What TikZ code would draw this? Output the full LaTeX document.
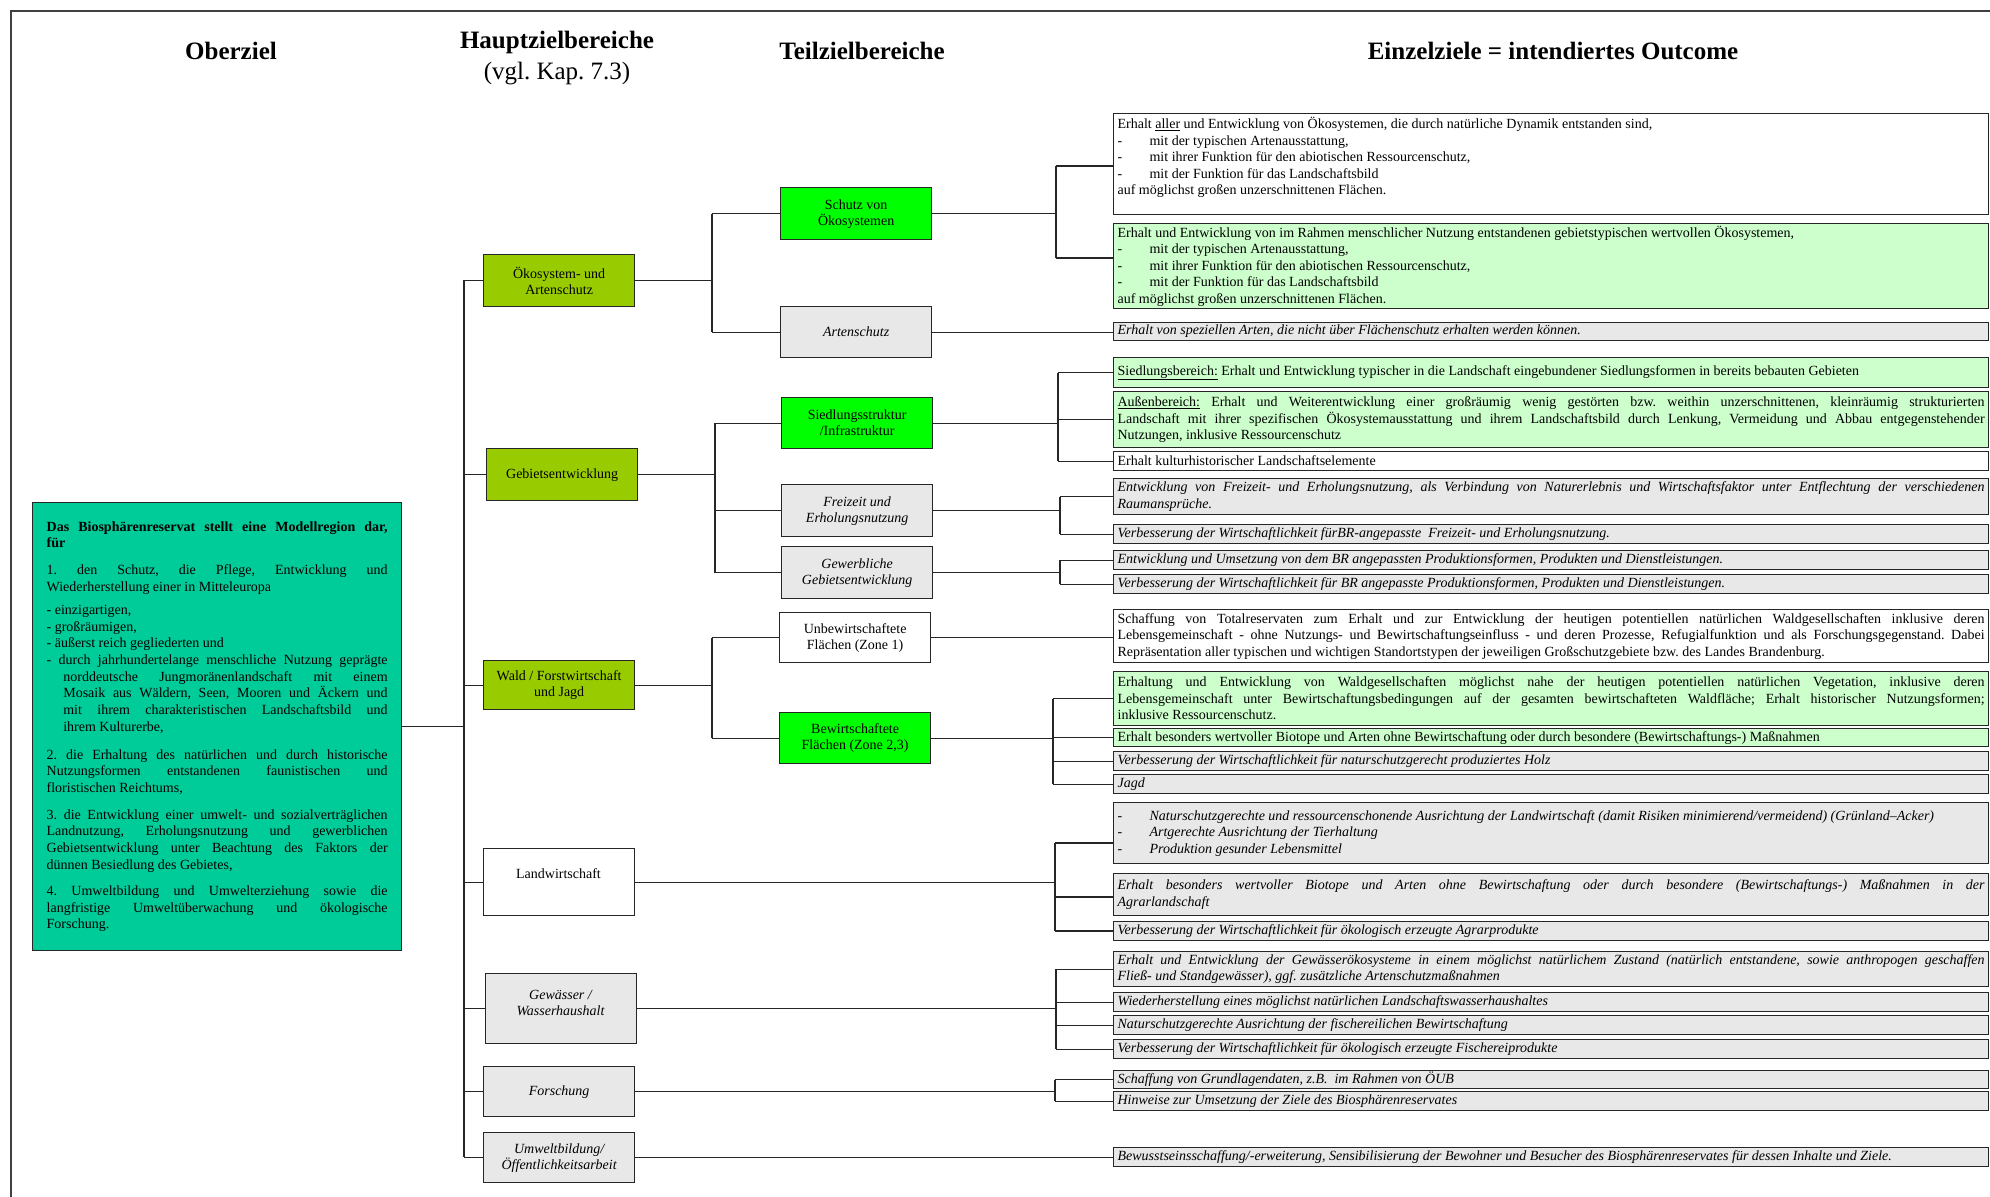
\documentclass[tikz,border=0pt]{standalone}
\usepackage{fontspec}
\setmainfont{Liberation Serif}
\definecolor{oberc}{HTML}{00CC99}
\definecolor{hauptc}{HTML}{99CC00}
\definecolor{brightg}{HTML}{00FF00}
\definecolor{lightg}{HTML}{CCFFCC}
\definecolor{grayc}{HTML}{E8E8E8}
\newcommand{\dsh}[1]{\makebox[32pt][l]{-}#1}
\newcommand{\etxt}[1]{\parbox{867pt}{#1}}
\tolerance=9999
\hyphenpenalty=10000
\exhyphenpenalty=10000
\hbadness=10000
\frenchspacing
\begin{document}
\begin{tikzpicture}[x=1pt,y=-1pt,
  conn/.style={draw=black!85, line width=1.2pt},
  frameline/.style={draw=black!75, line width=1.5pt},
  bx/.style={draw=black!85, line width=1.3pt, inner sep=1pt, align=center, anchor=north west, font=\fontsize{14}{16}\selectfont},
  tb/.style={bx, minimum width=151pt, minimum height=51pt},
  tbi/.style={tb, fill=grayc, font=\fontsize{14}{16}\selectfont\itshape},
  eb/.style={draw=black!85, line width=1.2pt, inner sep=0pt, anchor=north west, minimum width=875pt, font=\fontsize{14}{16.5}\selectfont},
  ebw/.style={eb, fill=white},
  ebg/.style={eb, fill=lightg},
  ebi/.style={eb, fill=grayc, font=\fontsize{14}{16.5}\selectfont\itshape},
  hdr/.style={font=\fontsize{25}{30.5}\selectfont\bfseries, align=center},
]
\useasboundingbox (0,0) rectangle (1990,1197);
\fill[white] (0,0) rectangle (1990,1197);
% frame
\coordinate (fTL) at (11,11);
\coordinate (fTR) at (1990,11);
\coordinate (fBL) at (11,1197);
\draw[frameline] (fTR) -- (fTL) -- (fBL);

% headers
\node[hdr] (hd1) at (231,51) {Oberziel};
\node[hdr] (hd2) at (557,58) {Hauptzielbereiche\\\mdseries(vgl. Kap. 7.3)};
\node[hdr] (hd3) at (862,51) {Teilzielbereiche};
\node[hdr] (hd4) at (1553,51) {Einzelziele = intendiertes Outcome};

% Oberziel
\node[bx, fill=oberc, minimum width=369pt, minimum height=448pt, inner sep=0pt] (ober) at (32,502) {%
\begin{minipage}{341pt}\fontsize{14}{16.7}\selectfont
\setlength{\parindent}{0pt}\setlength{\parskip}{0pt}%
\textbf{Das Biosphärenreservat stellt eine Modellregion dar,\linebreak für}\par
\vspace{10pt}
1. den Schutz, die Pflege, Entwicklung und\linebreak Wiederherstellung einer in Mitteleuropa\par
\vspace{6.5pt}
- einzigartigen,\par
- großräumigen,\par
- äußerst reich gegliederten und\par
{\hangindent=16.7pt\hangafter=1 - durch jahrhundertelange menschliche Nutzung geprägte\linebreak norddeutsche Jungmoränenlandschaft mit einem\linebreak Mosaik aus Wäldern, Seen, Mooren und Äckern und\linebreak mit ihrem charakteristischen Landschaftsbild und\linebreak ihrem Kulturerbe,\par}
\vspace{11pt}
2. die Erhaltung des natürlichen und durch historische\linebreak Nutzungsformen entstandenen faunistischen und\linebreak floristischen Reichtums,\par
\vspace{10pt}
3. die Entwicklung einer umwelt- und sozialverträglichen\linebreak Landnutzung, Erholungsnutzung und gewerblichen\linebreak Gebietsentwicklung unter Beachtung des Faktors der\linebreak dünnen Besiedlung des Gebietes,\par
\vspace{9.5pt}
4. Umweltbildung und Umwelterziehung sowie die\linebreak langfristige Umweltüberwachung und ökologische\linebreak Forschung.\par
\end{minipage}};

% Hauptziele
\node[tb, fill=hauptc, minimum height=52pt] (h1) at (483,254) {Ökosystem- und\\Artenschutz};
\node[tb, fill=hauptc, minimum height=52pt] (h2) at (486,448) {Gebietsentwicklung};
\node[tb, fill=hauptc, minimum height=49pt] (h3) at (483,660) {Wald / Forstwirtschaft\\und Jagd};
\node[tb, fill=white, minimum height=67pt] (h4) at (483,848) {};
\node[font=\fontsize{14}{16}\selectfont] (h4t) at (558.5,874) {Landwirtschaft};
\node[tb, fill=grayc, minimum height=70pt] (h5) at (485,973) {};
\node[font=\fontsize{14}{16}\selectfont\itshape, align=center] (h5t) at (560.5,1003) {Gewässer /\\Wasserhaushalt};
\node[tbi, minimum height=50pt] (h6) at (483,1066) {Forschung};
\node[tbi, minimum height=50pt] (h7) at (483,1132) {Umweltbildung/\\Öffentlichkeitsarbeit};

% Teilziele
\node[tb, fill=brightg, minimum height=52pt] (t1) at (780,187) {Schutz von\\Ökosystemen};
\node[tbi] (t2) at (780,306) {Artenschutz};
\node[tb, fill=brightg] (t3) at (781,397) {Siedlungsstruktur\\/Infrastruktur};
\node[tbi, minimum height=52pt] (t4) at (781,484) {Freizeit und\\Erholungsnutzung};
\node[tbi, minimum height=52pt] (t5) at (781,546) {Gewerbliche\\Gebietsentwicklung};
\node[tb, fill=white, minimum height=50pt] (t6) at (779,612) {Unbewirtschaftete\\Flächen (Zone 1)};
\node[tb, fill=brightg] (t7) at (779,712) {Bewirtschaftete\\Flächen (Zone 2,3)};

% Einzelziele
\node[ebw, minimum height=101pt] (e1) at (1113,113) {\etxt{Erhalt \underline{aller} und Entwicklung von Ökosystemen, die durch natürliche Dynamik entstanden sind,\\\dsh{mit der typischen Artenausstattung,}\\\dsh{mit ihrer Funktion für den abiotischen Ressourcenschutz,}\\\dsh{mit der Funktion für das Landschaftsbild}\\auf möglichst großen unzerschnittenen Flächen.\\\mbox{}}};
\node[ebg, minimum height=85pt] (e2) at (1113,223) {\etxt{Erhalt und Entwicklung von im Rahmen menschlicher Nutzung entstandenen gebietstypischen wertvollen Ökosystemen,\\\dsh{mit der typischen Artenausstattung,}\\\dsh{mit ihrer Funktion für den abiotischen Ressourcenschutz,}\\\dsh{mit der Funktion für das Landschaftsbild}\\auf möglichst großen unzerschnittenen Flächen.}};
\node[ebi, minimum height=18pt] (e3) at (1113,322) {\etxt{Erhalt von speziellen Arten, die nicht über Flächenschutz erhalten werden können.}};
\node[ebg, minimum height=30pt] (e4) at (1113,357) {\etxt{\underline{Siedlungsbereich:} Erhalt und Entwicklung typischer in die Landschaft eingebundener Siedlungsformen in bereits bebauten Gebieten}};
\node[ebg, minimum height=56pt] (e5) at (1113,391) {\etxt{\underline{Außenbereich:} Erhalt und Weiterentwicklung einer großräumig wenig gestörten bzw. weithin unzerschnittenen, kleinräumig strukturierten\linebreak Landschaft mit ihrer spezifischen Ökosystemausstattung und ihrem Landschaftsbild durch Lenkung, Vermeidung und Abbau entgegenstehender\linebreak Nutzungen, inklusive Ressourcenschutz}};
\node[ebw, minimum height=19pt] (e6) at (1113,451) {\etxt{Erhalt kulturhistorischer Landschaftselemente}};
\node[ebi, minimum height=36pt] (e7) at (1113,478) {\etxt{Entwicklung von Freizeit- und Erholungsnutzung, als Verbindung von Naturerlebnis und Wirtschaftsfaktor unter Entflechtung der verschiedenen\linebreak Raumansprüche.}};
\node[ebi, minimum height=19pt] (e8) at (1113,524) {\etxt{Verbesserung der Wirtschaftlichkeit fürBR-angepasste\ \ Freizeit- und Erholungsnutzung.}};
\node[ebi, minimum height=19pt] (e9) at (1113,550) {\etxt{Entwicklung und Umsetzung von dem BR angepassten Produktionsformen, Produkten und Dienstleistungen.}};
\node[ebi, minimum height=19pt] (e10) at (1113,574) {\etxt{Verbesserung der Wirtschaftlichkeit für BR angepasste Produktionsformen, Produkten und Dienstleistungen.}};
\node[ebw, minimum height=53pt] (e11) at (1113,609) {\etxt{Schaffung von Totalreservaten zum Erhalt und zur Entwicklung der heutigen potentiellen natürlichen Waldgesellschaften inklusive deren\linebreak Lebensgemeinschaft - ohne Nutzungs- und Bewirtschaftungseinfluss - und deren Prozesse, Refugialfunktion und als Forschungsgegenstand. Dabei\linebreak Repräsentation aller typischen und wichtigen Standortstypen der jeweiligen Großschutzgebiete bzw. des Landes Brandenburg.}};
\node[ebg, minimum height=54pt] (e12) at (1113,671) {\etxt{Erhaltung und Entwicklung von Waldgesellschaften möglichst nahe der heutigen potentiellen natürlichen Vegetation, inklusive deren\linebreak Lebensgemeinschaft unter Bewirtschaftungsbedingungen auf der gesamten bewirtschafteten Waldfläche; Erhalt historischer Nutzungsformen;\linebreak inklusive Ressourcenschutz.}};
\node[ebg, minimum height=18pt] (e13) at (1113,728) {\etxt{Erhalt besonders wertvoller Biotope und Arten ohne Bewirtschaftung oder durch besondere (Bewirtschaftungs-) Maßnahmen}};
\node[ebi, minimum height=19pt] (e14) at (1113,751) {\etxt{Verbesserung der Wirtschaftlichkeit für naturschutzgerecht produziertes Holz}};
\node[ebi, minimum height=19pt] (e15) at (1113,774) {\etxt{Jagd}};
\node[ebi, minimum height=61pt] (e16) at (1113,802) {\etxt{\dsh{Naturschutzgerechte und ressourcenschonende Ausrichtung der Landwirtschaft (damit Risiken minimierend/vermeidend) (Grünland–Acker)}\\\dsh{Artgerechte Ausrichtung der Tierhaltung}\\\dsh{Produktion gesunder Lebensmittel}}};
\node[ebi, minimum height=42pt] (e17) at (1113,873) {\etxt{Erhalt besonders wertvoller Biotope und Arten ohne Bewirtschaftung oder durch besondere (Bewirtschaftungs-) Maßnahmen in der\linebreak Agrarlandschaft}};
\node[ebi, minimum height=19pt] (e18) at (1113,921) {\etxt{Verbesserung der Wirtschaftlichkeit für ökologisch erzeugte Agrarprodukte}};
\node[ebi, minimum height=35pt] (e19) at (1113,951) {\etxt{Erhalt und Entwicklung der Gewässerökosysteme in einem möglichst natürlichem Zustand (natürlich entstandene, sowie anthropogen geschaffen\linebreak Fließ- und Standgewässer), ggf. zusätzliche Artenschutzmaßnahmen}};
\node[ebi, minimum height=19pt] (e20) at (1113,992) {\etxt{Wiederherstellung eines möglichst natürlichen Landschaftswasserhaushaltes}};
\node[ebi, minimum height=19pt] (e21) at (1113,1015) {\etxt{Naturschutzgerechte Ausrichtung der fischereilichen Bewirtschaftung}};
\node[ebi, minimum height=19pt] (e22) at (1113,1039) {\etxt{Verbesserung der Wirtschaftlichkeit für ökologisch erzeugte Fischereiprodukte}};
\node[ebi, minimum height=18pt] (e23) at (1113,1070) {\etxt{Schaffung von Grundlagendaten, z.B.\ \ im Rahmen von ÖUB}};
\node[ebi, minimum height=19pt] (e24) at (1113,1091) {\etxt{Hinweise zur Umsetzung der Ziele des Biosphärenreservates}};
\node[ebi, minimum height=19pt] (e25) at (1113,1147) {\etxt{Bewusstseinsschaffung/-erweiterung, Sensibilisierung der Bewohner und Besucher des Biosphärenreservates für dessen Inhalte und Ziele.}};

% ---- connectors ----
\coordinate (busT) at (464,280);
\coordinate (busB) at (464,1157);
\draw[conn] (busT) -- (busB);
\draw[conn] (ober.east) -- (ober.east -| busT);
\foreach \h in {h1,h2,h3,h4,h5,h6,h7} {\draw[conn] (\h.west) -- (\h.west -| busT);}

% Haupt -> Teil
\coordinate (tb1) at (712,0);
\draw[conn] (h1.east) -- (h1.east -| tb1);
\draw[conn] (t1.west -| tb1) -- (t2.west -| tb1);
\draw[conn] (t1.west -| tb1) -- (t1.west);
\draw[conn] (t2.west -| tb1) -- (t2.west);
\coordinate (tb2) at (715,0);
\draw[conn] (h2.east) -- (h2.east -| tb2);
\draw[conn] (t3.west -| tb2) -- (t5.west -| tb2);
\foreach \t in {t3,t4,t5} {\draw[conn] (\t.west -| tb2) -- (\t.west);}
\coordinate (tb3) at (712,0);
\draw[conn] (h3.east) -- (h3.east -| tb3);
\draw[conn] (t6.west -| tb3) -- (t7.west -| tb3);
\foreach \t in {t6,t7} {\draw[conn] (\t.west -| tb3) -- (\t.west);}

% Teil -> Einzel
\coordinate (s1) at (1056,166);
\coordinate (s2) at (1056,258);
\draw[conn] (t1.east) -- (t1.east -| s1);
\draw[conn] (s1) -- (s2);
\draw[conn] (s1) -- (s1 -| e1.west);
\draw[conn] (s2) -- (s2 -| e2.west);
\draw[conn] (t2.east) -- (t2.east -| e3.west);
\coordinate (sb) at (1058,0);
\draw[conn] (t3.east) -- (t3.east -| sb);
\draw[conn] (e4.west -| sb) -- (e6.west -| sb);
\foreach \e in {e4,e5,e6} {\draw[conn] (\e.west -| sb) -- (\e.west);}
\coordinate (fb) at (1060,0);
\draw[conn] (t4.east) -- (t4.east -| fb);
\draw[conn] (e7.west -| fb) -- (e8.west -| fb);
\foreach \e in {e7,e8} {\draw[conn] (\e.west -| fb) -- (\e.west);}
\draw[conn] (t5.east) -- (t5.east -| fb);
\draw[conn] (e9.west -| fb) -- (e10.west -| fb);
\foreach \e in {e9,e10} {\draw[conn] (\e.west -| fb) -- (\e.west);}
\draw[conn] (t6.east) -- (t6.east -| e11.west);
\coordinate (bb) at (1053,0);
\draw[conn] (t7.east) -- (t7.east -| bb);
\draw[conn] (e12.west -| bb) -- (e15.west -| bb);
\foreach \e in {e12,e13,e14,e15} {\draw[conn] (\e.west -| bb) -- (\e.west);}

% Haupt -> Einzel
\coordinate (l1) at (1055,843);
\coordinate (l2) at (1055,897);
\coordinate (l3) at (1055,931);
\draw[conn] (h4.east) -- (h4.east -| l1);
\draw[conn] (l1) -- (l3);
\draw[conn] (l1) -- (l1 -| e16.west);
\draw[conn] (l2) -- (l2 -| e17.west);
\draw[conn] (l3) -- (l3 -| e18.west);
\coordinate (gb) at (1056,0);
\draw[conn] (h5.east) -- (h5.east -| gb);
\draw[conn] (e19.west -| gb) -- (e22.west -| gb);
\foreach \e in {e19,e20,e21,e22} {\draw[conn] (\e.west -| gb) -- (\e.west);}
\coordinate (rb) at (1055,0);
\draw[conn] (h6.east) -- (h6.east -| rb);
\draw[conn] (e23.west -| rb) -- (e24.west -| rb);
\foreach \e in {e23,e24} {\draw[conn] (\e.west -| rb) -- (\e.west);}
\draw[conn] (h7.east) -- (h7.east -| e25.west);
\end{tikzpicture}
\end{document}
